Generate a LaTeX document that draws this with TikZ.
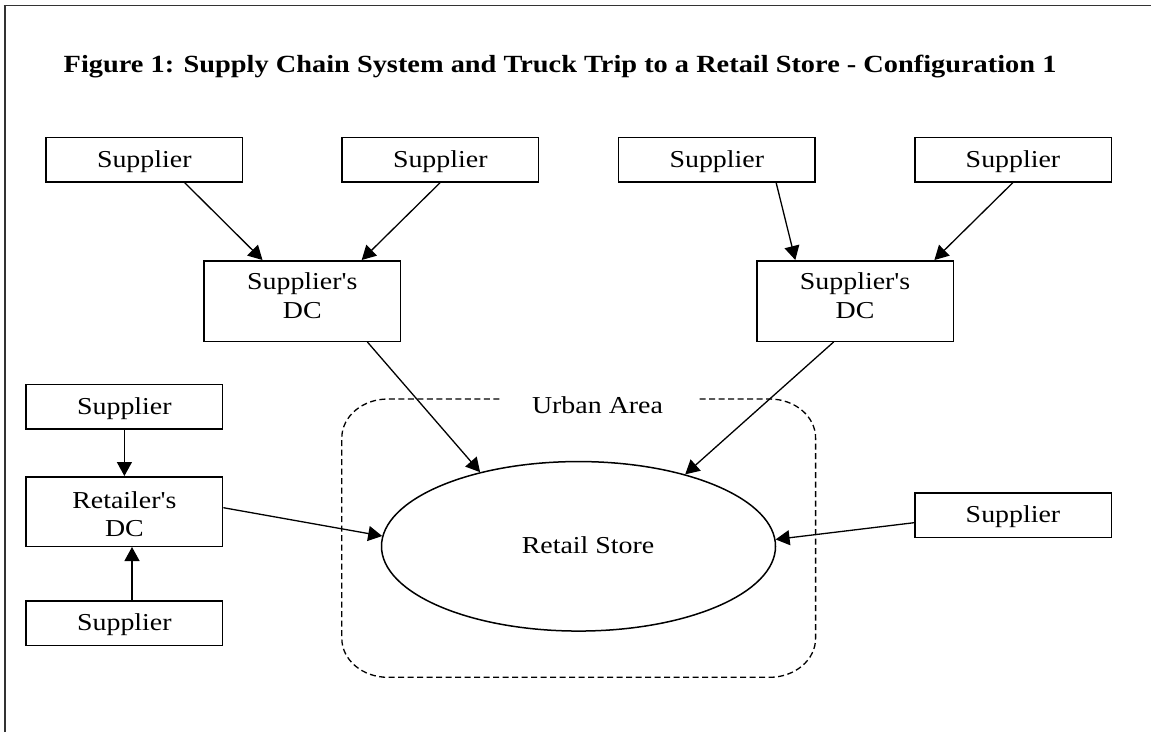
\documentclass[tikz,border=0pt]{standalone}
\usepackage{fontspec}
\setmainfont{Liberation Serif}[Ligatures=TeXOff]
\newfontfamily\lbfont{Liberation Serif}[Ligatures=TeXOff,FakeStretch=1.148]
\usetikzlibrary{arrows.meta,shapes.geometric,calc}
\begin{document}
\begin{tikzpicture}[x=1pt,y=-1pt,
  lbl/.style={font=\lbfont\fontsize{24.3}{28.5}\selectfont},
  box/.style={lbl,draw,line width=1.5pt,inner sep=0pt,minimum width=196.5pt,minimum height=44.5pt,text height=17.5pt,text depth=2.5pt},
  dcbox/.style={lbl,draw,line width=1.5pt,inner sep=0pt,minimum width=196.5pt,align=center},
  arr/.style={line width=1.3pt,-{Triangle[length=14pt,width=15pt]}},
  frame/.style={draw=black!80},
  urban/.style={line width=1.3pt,dash pattern=on 6pt off 3.5pt}]
\useasboundingbox (0,0) rectangle (1151,732);
\draw[frame,line width=2.2pt] (4.6,732) -- (4.6,4.75);
\draw[frame,line width=1.5pt] (3.5,5.5) -- (1151,5.5);
\node[anchor=base west,inner sep=0pt,font=\lbfont\fontsize{24.7}{30}\selectfont\bfseries] (title) at (63.5,72.7)
  {Figure 1: Supply Chain System and Truck Trip to a Retail Store - Configuration 1};
% top suppliers
\node[box] (s1) at (144.3,159.5) {Supplier};
\node[box] (s2) at (440.3,159.5) {Supplier};
\node[box] (s3) at (716.8,159.5) {Supplier};
\node[box] (s4) at (1013,159.5) {Supplier};
% supplier DCs
\node[dcbox,minimum height=80.5pt,text height=46pt,text depth=11.4pt] (dcL) at (302.3,301) {Supplier's\\DC};
\node[dcbox,minimum height=80.5pt,text height=46pt,text depth=11.4pt] (dcR) at (855.1,301) {Supplier's\\DC};
% left column
\node[box] (sL1) at (124.4,406.7) {Supplier};
\node[dcbox,minimum height=69.5pt,text height=50.4pt,text depth=0pt] (rdc) at (124.4,511.5) {Retailer's\\DC};
\node[box] (sL2) at (124.4,623.3) {Supplier};
% right supplier
\node[box] (sR) at (1013,515.2) {Supplier};
% urban area (dashed, open at the label)
\draw[urban] (499.4,399) -- (387.8,399) arc[start angle=270,end angle=180,x radius=46,y radius=39]
  -- (341.8,638.3) arc[start angle=180,end angle=90,x radius=46,y radius=39]
  -- (769.6,677.3) arc[start angle=90,end angle=0,x radius=46,y radius=39]
  -- (815.6,438) arc[start angle=360,end angle=270,x radius=46,y radius=39]
  -- (698.7,399);
\node[lbl,anchor=base,inner sep=0pt] (urbanlbl) at (597.5,413) {Urban Area};
% store
\node[draw,ellipse,line width=1.5pt,minimum width=394pt,minimum height=169.5pt,inner sep=0pt] (store) at (578.5,546.3) {};
\node[lbl,anchor=base,inner sep=0pt] (storelbl) at (588,553) {Retail Store};
% connectors
\draw[arr] ([xshift=40.2pt]s1.south) -- ([xshift=-39.8pt]dcL.north);
\draw[arr] (s2.south) -- ([xshift=59.4pt]dcL.north);
\draw[arr] ([xshift=59.3pt]s3.south) -- ([xshift=-59.8pt]dcR.north);
\draw[arr] (s4.south) -- ([xshift=79.3pt]dcR.north);
\draw[arr] ([xshift=65.1pt]dcL.south) -- (store.143.9);
\draw[arr] ([xshift=-21.5pt]dcR.south) -- (store.34.6);
\draw[arr] ([yshift=3.8pt]rdc.east) -- (store.177.7);
\draw[arr] ([yshift=-7.5pt]sR.west) -- (store.2.3);
\draw[arr] (sL1.south) -- (rdc.north);
\draw[arr] ([xshift=7.6pt]sL2.north) -- ([xshift=7.6pt]rdc.south);
\end{tikzpicture}
\end{document}
